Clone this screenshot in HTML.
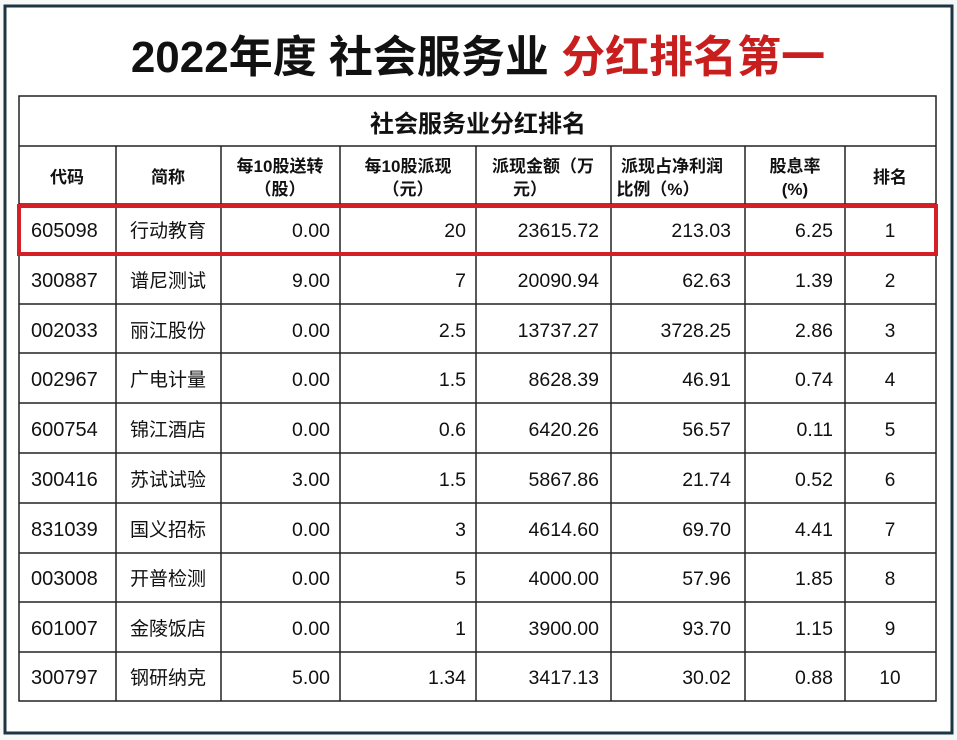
<!DOCTYPE html>
<html><head><meta charset="utf-8"><style>
html,body{margin:0;padding:0;background:#fff;}
svg{display:block;}
text{font-family:"Liberation Sans","Noto Sans CJK SC",sans-serif;fill:#111;}
.n{font-size:19.5px;text-anchor:end;}
.c{font-size:19px;text-anchor:middle;}
.k{font-size:20px;text-anchor:start;}
.h{font-size:17px;font-weight:bold;text-anchor:middle;}
</style></head><body>
<svg width="957" height="740" viewBox="0 0 957 740" xmlns="http://www.w3.org/2000/svg">
<rect x="0" y="0" width="957" height="740" fill="#f7f8f8"/>
<rect x="5" y="6" width="947" height="727" fill="#fff" stroke="#1d3443" stroke-width="3"/>
<text x="478" y="72" text-anchor="middle" style="font-size:44px;font-weight:bold;">2022年度 社会服务业 <tspan fill="#c81e1e" style="fill:#c81e1e">分红排名第一</tspan></text>
<g stroke="#222" stroke-width="1.5" fill="none">
<rect x="19" y="96" width="917" height="605"/>
<line x1="19" y1="146" x2="936" y2="146"/>
<line x1="19" y1="204" x2="936" y2="204"/>
<line x1="19" y1="254" x2="936" y2="254"/>
<line x1="19" y1="304" x2="936" y2="304"/>
<line x1="19" y1="353" x2="936" y2="353"/>
<line x1="19" y1="403" x2="936" y2="403"/>
<line x1="19" y1="453" x2="936" y2="453"/>
<line x1="19" y1="503" x2="936" y2="503"/>
<line x1="19" y1="553" x2="936" y2="553"/>
<line x1="19" y1="602" x2="936" y2="602"/>
<line x1="19" y1="652" x2="936" y2="652"/>
<line x1="116" y1="146" x2="116" y2="701"/>
<line x1="221" y1="146" x2="221" y2="701"/>
<line x1="340" y1="146" x2="340" y2="701"/>
<line x1="476" y1="146" x2="476" y2="701"/>
<line x1="611" y1="146" x2="611" y2="701"/>
<line x1="745" y1="146" x2="745" y2="701"/>
<line x1="845" y1="146" x2="845" y2="701"/>
</g>
<rect x="19" y="206" width="917" height="48" fill="none" stroke="#d32027" stroke-width="4"/>
<text x="478" y="132" text-anchor="middle" style="font-size:24px;font-weight:bold;">社会服务业分红排名</text>
<text class="h" x="67" y="183">代码</text>
<text class="h" x="168" y="183">简称</text>
<text class="h" x="280" y="172">每10股送转</text><text class="h" x="280" y="195">（股）</text>
<text class="h" x="408" y="172">每10股派现</text><text class="h" x="408" y="195">（元）</text>
<text class="h" x="543" y="172">派现金额（万</text><text class="h" x="530" y="195">元）</text>
<text class="h" x="672" y="172">派现占净利润</text><text class="h" x="658" y="195">比例（%）</text>
<text class="h" x="795" y="172">股息率</text><text class="h" x="795" y="195">(%)</text>
<text class="h" x="890" y="183">排名</text>
<g>
<g transform="translate(0,237)"><text class="k" x="31">605098</text><text class="c" x="168">行动教育</text><text class="n" x="330">0.00</text><text class="n" x="466">20</text><text class="n" x="599">23615.72</text><text class="n" x="731">213.03</text><text class="n" x="833">6.25</text><text class="c" x="890">1</text></g>
<g transform="translate(0,287)"><text class="k" x="31">300887</text><text class="c" x="168">谱尼测试</text><text class="n" x="330">9.00</text><text class="n" x="466">7</text><text class="n" x="599">20090.94</text><text class="n" x="731">62.63</text><text class="n" x="833">1.39</text><text class="c" x="890">2</text></g>
<g transform="translate(0,337)"><text class="k" x="31">002033</text><text class="c" x="168">丽江股份</text><text class="n" x="330">0.00</text><text class="n" x="466">2.5</text><text class="n" x="599">13737.27</text><text class="n" x="731">3728.25</text><text class="n" x="833">2.86</text><text class="c" x="890">3</text></g>
<g transform="translate(0,386)"><text class="k" x="31">002967</text><text class="c" x="168">广电计量</text><text class="n" x="330">0.00</text><text class="n" x="466">1.5</text><text class="n" x="599">8628.39</text><text class="n" x="731">46.91</text><text class="n" x="833">0.74</text><text class="c" x="890">4</text></g>
<g transform="translate(0,436)"><text class="k" x="31">600754</text><text class="c" x="168">锦江酒店</text><text class="n" x="330">0.00</text><text class="n" x="466">0.6</text><text class="n" x="599">6420.26</text><text class="n" x="731">56.57</text><text class="n" x="833">0.11</text><text class="c" x="890">5</text></g>
<g transform="translate(0,486)"><text class="k" x="31">300416</text><text class="c" x="168">苏试试验</text><text class="n" x="330">3.00</text><text class="n" x="466">1.5</text><text class="n" x="599">5867.86</text><text class="n" x="731">21.74</text><text class="n" x="833">0.52</text><text class="c" x="890">6</text></g>
<g transform="translate(0,536)"><text class="k" x="31">831039</text><text class="c" x="168">国义招标</text><text class="n" x="330">0.00</text><text class="n" x="466">3</text><text class="n" x="599">4614.60</text><text class="n" x="731">69.70</text><text class="n" x="833">4.41</text><text class="c" x="890">7</text></g>
<g transform="translate(0,585)"><text class="k" x="31">003008</text><text class="c" x="168">开普检测</text><text class="n" x="330">0.00</text><text class="n" x="466">5</text><text class="n" x="599">4000.00</text><text class="n" x="731">57.96</text><text class="n" x="833">1.85</text><text class="c" x="890">8</text></g>
<g transform="translate(0,635)"><text class="k" x="31">601007</text><text class="c" x="168">金陵饭店</text><text class="n" x="330">0.00</text><text class="n" x="466">1</text><text class="n" x="599">3900.00</text><text class="n" x="731">93.70</text><text class="n" x="833">1.15</text><text class="c" x="890">9</text></g>
<g transform="translate(0,684)"><text class="k" x="31">300797</text><text class="c" x="168">钢研纳克</text><text class="n" x="330">5.00</text><text class="n" x="466">1.34</text><text class="n" x="599">3417.13</text><text class="n" x="731">30.02</text><text class="n" x="833">0.88</text><text class="c" x="890">10</text></g>
</g>
</svg>
</body></html>
